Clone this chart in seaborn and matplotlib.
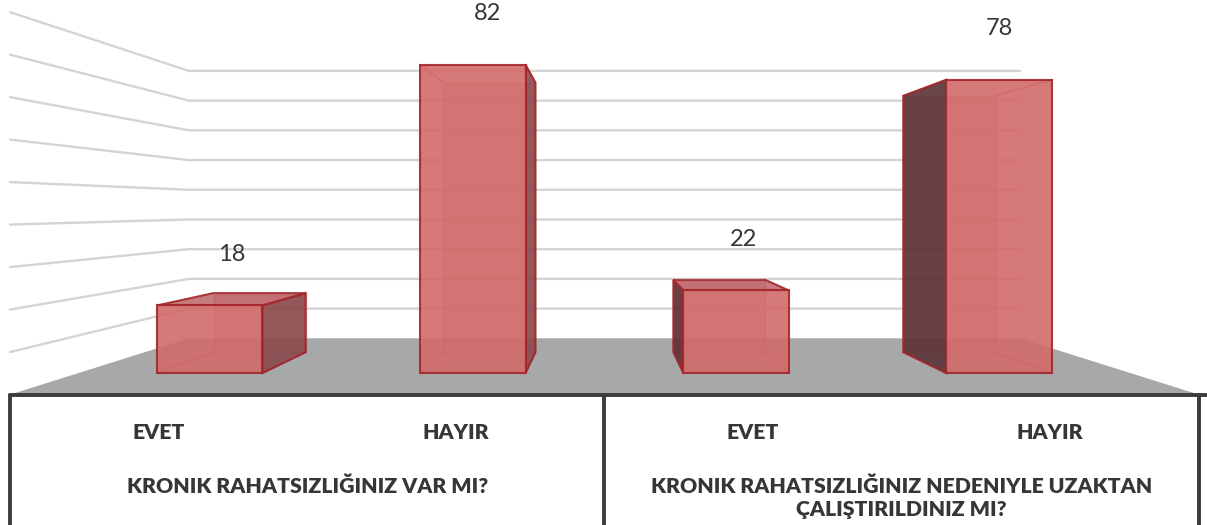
import matplotlib
matplotlib.use("Agg")
import matplotlib.pyplot as plt
import pandas as pd
import seaborn as sns
from matplotlib.patches import Polygon

# data
questions = ["KRONIK RAHATSIZLIĞINIZ VAR MI?",
             "KRONIK RAHATSIZLIĞINIZ NEDENIYLE UZAKTAN\nÇALIŞTIRILDINIZ MI?"]
answers = ["EVET", "HAYIR"]
values_q1 = [18, 82]
values_q2 = [22, 78]
grid_values = [10, 20, 30, 40, 50, 60, 70, 80, 90]

# fake 3D: everything is projected towards a vanishing point (data coords)
VX, VY = 1.5, 44
K_WALL = 0.79      # back wall
K_BACK = 0.874     # back face of the bars
K_FRONT = 1.13     # front edge of the floor

FLOOR_COLOR = "#a7a9a9"
GRID_COLOR = "#d4d4d4"
EDGE_COLOR = "#a3262b"
FRONT_COLOR = "#d26a6a"
TEXT_COLOR = "#363636"


def proj(x, y, k):
    return VX + k * (x - VX), VY + k * (y - VY)


rows = []
for qi, vals in enumerate([values_q1, values_q2]):
    for ans, v in zip(answers, vals):
        rows.append({"key": f"{qi}-{ans}", "question": qi, "answer": ans, "value": v})
df = pd.DataFrame(rows)

sns.set_style("white")
plt.rcParams["font.family"] = ["Lato", "DejaVu Sans"]

fig = plt.figure(figsize=(12.07, 5.25), dpi=100)
ax = fig.add_axes([0, 0, 1, 1])

sns.barplot(data=df, x="key", y="value", order=df["key"].tolist(), width=0.4,
            color=FRONT_COLOR, errorbar=None, ax=ax, zorder=10)
bars = list(ax.patches)

ncat = len(df)
left, right = -0.5, ncat - 0.5

# floor
fl = [proj(left, 0, K_WALL), proj(right, 0, K_WALL),
      proj(right, 0, K_FRONT), proj(left, 0, K_FRONT)]
ax.add_patch(Polygon(fl, closed=True, facecolor=FLOOR_COLOR, edgecolor="none", zorder=1))

# back wall + left wall gridlines
for g in grid_values:
    bl = proj(left, g, K_WALL)
    br = proj(right, g, K_WALL)
    fr = proj(left, g, K_FRONT)
    ax.plot([fr[0], bl[0], br[0]], [fr[1], bl[1], br[1]], color=GRID_COLOR, lw=1.7,
            solid_joinstyle="miter", zorder=2)

# bars: seaborn draws the front faces, the rest of the box is added around them
for bar, v in zip(bars, df["value"]):
    x0 = bar.get_x()
    x1 = x0 + bar.get_width()
    h = bar.get_height()
    cx = x0 + bar.get_width() / 2
    bar.set_facecolor(FRONT_COLOR)
    bar.set_alpha(0.9)
    bar.set_edgecolor(EDGE_COLOR)
    bar.set_linewidth(1.5)

    back = [proj(x0, 0, K_BACK), proj(x1, 0, K_BACK), proj(x1, h, K_BACK), proj(x0, h, K_BACK)]
    ax.add_patch(Polygon(back, closed=True, facecolor=FRONT_COLOR, alpha=0.35,
                         edgecolor=EDGE_COLOR, lw=1.0, zorder=5))
    for xe in (x0, x1):
        for ye in (0, h):
            pb = proj(xe, ye, K_BACK)
            ax.plot([xe, pb[0]], [ye, pb[1]], color=EDGE_COLOR, lw=1.0, alpha=0.6, zorder=6)

    if cx < VX:
        xs, side_color = x1, "#8a4a4e"
    else:
        xs, side_color = x0, "#5a3236"
    side = [(xs, 0), (xs, h), proj(xs, h, K_BACK), proj(xs, 0, K_BACK)]
    ax.add_patch(Polygon(side, closed=True, facecolor=side_color, alpha=0.9,
                         edgecolor=EDGE_COLOR, lw=1.5, zorder=8))
    if h < VY:
        top = [(x0, h), (x1, h), proj(x1, h, K_BACK), proj(x0, h, K_BACK)]
        ax.add_patch(Polygon(top, closed=True, facecolor="#b85a5c", alpha=0.8,
                             edgecolor=EDGE_COLOR, lw=1.5, zorder=9))

    lx = cx + 0.028 * (ncat - 1 - cx)
    ax.text(lx, h + 13.5, f"{v:g}", ha="center", va="center", fontsize=17,
            color=TEXT_COLOR, zorder=12)

# category table under the floor
ymin = -40.4
fl_left = proj(left, 0, K_FRONT)
fl_right = proj(right, 0, K_FRONT)
ax.plot([fl_left[0], 3.79], [fl_left[1], fl_left[1]], color="#3c3c3c", lw=2.8, zorder=3)
for xv in (fl_left[0], VX, fl_right[0]):
    ax.plot([xv, xv], [fl_left[1], ymin], color="#3c3c3c", lw=2.8, zorder=3)

bounds = [fl_left[0], VX, fl_right[0]]
for qi, q in enumerate(questions):
    a, b = bounds[qi], bounds[qi + 1]
    w = (b - a) / len(answers)
    for ai, ans in enumerate(answers):
        ax.text(a + w * (ai + 0.5), -15.7, ans, ha="center", va="center", fontsize=15.3,
                fontweight="heavy", color=TEXT_COLOR)
    ax.text((a + b) / 2, -27.4, q, ha="center", va="top", fontsize=15.3, fontweight="heavy",
            color=TEXT_COLOR, linespacing=1.3)

ax.set_xlim(-0.798, 3.791)
ax.set_ylim(ymin, 99.2)
ax.axis("off")

fig.savefig("out.png", dpi=100)
